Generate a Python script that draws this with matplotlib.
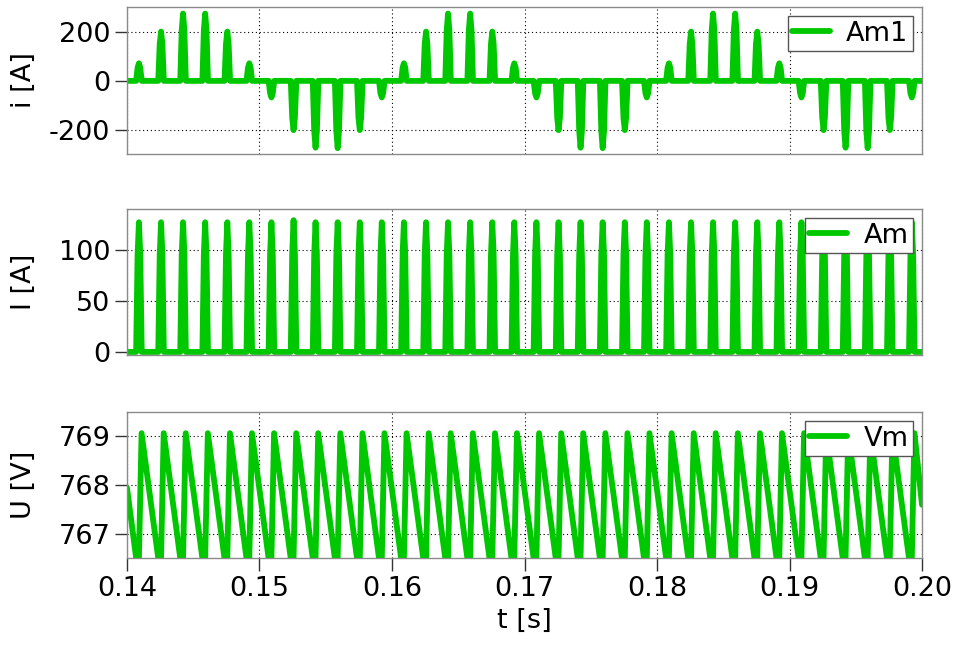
import matplotlib
matplotlib.use("Agg")
import matplotlib.pyplot as plt
import numpy as np

# ---- data -------------------------------------------------------------
# peak times of the rectifier current pulses [s]
pulse_t = [0.14090, 0.14257, 0.14423, 0.14590, 0.14757, 0.14923,
           0.15090, 0.15257, 0.15423, 0.15590, 0.15757, 0.15923,
           0.16090, 0.16257, 0.16423, 0.16590, 0.16757, 0.16923,
           0.17090, 0.17257, 0.17423, 0.17590, 0.17757, 0.17923,
           0.18090, 0.18257, 0.18423, 0.18590, 0.18757, 0.18923,
           0.19090, 0.19257, 0.19423, 0.19590, 0.19757, 0.19923]

# phase current Am1 [A], pulse peaks
am1_peak = [72, 202, 276, 276, 202, 72,
            -68, -202, -274, -276, -202, -68,
            72, 202, 276, 276, 202, 72,
            -68, -202, -274, -276, -202, -68,
            72, 202, 276, 276, 202, 72,
            -68, -202, -274, -276, -202, -68]

# DC current Am [A], pulse peaks
am_peak = [127, 127, 127, 127, 127, 127,
           127, 129, 127, 127, 127, 127,
           127, 127, 127, 127, 127, 127,
           127, 127, 127, 127, 127, 127,
           127, 127, 127, 127, 127, 127,
           127, 127, 127, 127, 127, 127]

# DC voltage Vm [V]: maxima after each pulse, minima before each pulse
vm_peak = [769.05, 769.05, 769.05, 769.05, 769.05, 769.05,
           769.05, 769.05, 769.05, 769.05, 769.05, 769.05,
           769.05, 769.05, 769.05, 769.05, 769.05, 769.05,
           769.05, 769.05, 769.05, 769.05, 769.05, 769.05,
           769.05, 769.05, 769.05, 769.05, 769.05, 769.05,
           769.05, 769.05, 769.05, 769.05, 769.05, 769.05]
vm_trough = [766.15] * 36
vm_start = 767.94
vm_end = 767.60

t_range = (0.14, 0.20)
x_ticks = [0.14, 0.15, 0.16, 0.17, 0.18, 0.19, 0.20]
x_labels = ["0.14", "0.15", "0.16", "0.17", "0.18", "0.19", "0.20"]

# ---- waveform construction -------------------------------------------
# pulse profile (relative time offset, fraction of peak)
prof_dt = [-0.00021, -0.00010, 0.0, 0.00010, 0.00021]
prof_k = [0.0, 0.75, 1.0, 0.75, 0.0]


def pulse_train(times, peaks):
    t = [t_range[0]]
    y = [0.0]
    for tc, a in zip(times, peaks):
        for dt, k in zip(prof_dt, prof_k):
            t.append(tc + dt)
            y.append(a * k)
    t.append(t_range[1])
    y.append(0.0)
    return np.array(t), np.array(y)


def sawtooth(times, peaks, troughs):
    t = [t_range[0]]
    y = [vm_start]
    for tc, hi, lo in zip(times, peaks, troughs):
        t += [tc - 0.00003, tc + 0.00020]
        y += [lo, hi]
    t.append(t_range[1])
    y.append(vm_end)
    return np.array(t), np.array(y)


GREEN = "#00c800"
LW = 4.2

plt.rcParams["font.family"] = ["DejaVu Sans"]
plt.rcParams["font.size"] = 19.5

fig = plt.figure(figsize=(9.57, 6.46), dpi=100)
W, H = 957, 646
left, right = 127 / W, 922 / W
rows = [(7, 154), (209, 355), (412, 558)]
axes = []
for top, bot in rows:
    ax = fig.add_axes([left, 1 - bot / H, right - left, (bot - top) / H])
    axes.append(ax)

series = [
    (pulse_train(pulse_t, am1_peak), "Am1", "i [A]", (-300, 303), [-200, 0, 200]),
    (pulse_train(pulse_t, am_peak), "Am", "I [A]", (-3, 140), [0, 50, 100]),
    (sawtooth(pulse_t, vm_peak, vm_trough), "Vm", "U [V]", (766.52, 769.48), [767, 768, 769]),
]

for i, (ax, ((t, y), name, ylab, ylim, yt)) in enumerate(zip(axes, series)):
    ax.plot(t, y, color=GREEN, lw=LW, solid_joinstyle="round",
            solid_capstyle="round", label=name)
    ax.set_xlim(*t_range)
    ax.set_ylim(*ylim)
    ax.set_yticks(yt)
    ax.set_yticklabels([str(v) for v in yt])
    ax.set_xticks(x_ticks)
    ax.grid(True, color="black", linestyle=(0, (1, 2.5)), linewidth=0.8)
    for s in ax.spines.values():
        s.set_color("#8a8a8a")
        s.set_linewidth(1.0)
    ax.tick_params(axis="y", direction="out", length=9, width=1,
                   color="#333333", pad=3)
    if i < 2:
        ax.tick_params(axis="x", length=0, labelbottom=False)
    else:
        ax.set_xticklabels(x_labels)
        ax.tick_params(axis="x", direction="out", length=9, width=1,
                       color="#333333", pad=4)
        ax.set_xlabel("t [s]", labelpad=4)
    ax.set_ylabel(ylab)
    ax.yaxis.set_label_coords(-0.113, 0.5)
    leg = ax.legend(loc="upper right", fontsize=19.5, frameon=True,
                    fancybox=False, borderaxespad=0.35, handlelength=1.4,
                    handletextpad=0.6, borderpad=0.15)
    leg.get_frame().set_edgecolor("#555555")
    leg.get_frame().set_linewidth(1.0)
    leg.get_frame().set_alpha(1.0)

fig.savefig("out.png", dpi=100)
